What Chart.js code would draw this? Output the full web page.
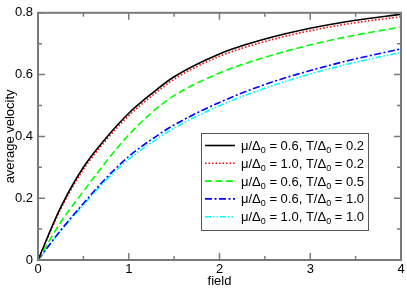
<!DOCTYPE html>
<html>
<head>
<meta charset="utf-8">
<script src="https://cdn.jsdelivr.net/npm/chart.js@4.4.1/dist/chart.umd.min.js"></script>
<style>
  html, body { margin: 0; padding: 0; background: #fff; }
  canvas { display: block; }
</style>
</head>
<body>
<canvas id="chart" width="407" height="289"></canvas>
<script>
// values
const field = [0, 0.25, 0.5, 0.75, 1, 1.25, 1.5, 2, 2.5, 3, 3.5, 4];
const velMu06T02 = [0, 0.17, 0.30, 0.395, 0.475, 0.538, 0.593, 0.667, 0.715, 0.750, 0.776, 0.795];
const velMu10T02 = [0, 0.165, 0.293, 0.388, 0.467, 0.530, 0.585, 0.659, 0.707, 0.742, 0.768, 0.787];
const velMu06T05 = [0, 0.122, 0.222, 0.318, 0.405, 0.476, 0.532, 0.605, 0.656, 0.696, 0.728, 0.754];
const velMu06T10 = [0, 0.096, 0.183, 0.265, 0.335, 0.39, 0.437, 0.510, 0.568, 0.613, 0.651, 0.683];
const velMu10T10 = [0, 0.094, 0.178, 0.258, 0.326, 0.38, 0.427, 0.499, 0.556, 0.602, 0.640, 0.672];

const muValues = ['0.6', '1.0', '0.6', '0.6', '1.0'];
const tValues = ['0.2', '0.2', '0.5', '1.0', '1.0'];

const xTicks = [0, 1, 2, 3, 4];
const xMinor = [0.5, 1.5, 2.5, 3.5];
const yTicks = [0, 0.2, 0.4, 0.6, 0.8];
const yMinor = [0.1, 0.3, 0.5, 0.7];

const FONT = '"Liberation Sans", Arial, sans-serif';
Chart.defaults.font.family = FONT;
Chart.defaults.font.size = 13;
Chart.defaults.color = '#000';

const series = [velMu06T02, velMu10T02, velMu06T05, velMu06T10, velMu10T10];
const colors = ['#000000', '#ff0000', '#00ff00', '#0000ff', '#00ffff'];
const dashes = [[], [1.5, 2], [7, 3.5], [7, 2.5, 2, 2.5], [6, 2, 1.5, 2, 1.5, 2]];

const datasets = series.map((vals, i) => ({
    label: 'μ/Δ₀ = ' + muValues[i] + ', T/Δ₀ = ' + tValues[i],
    data: vals.map((v, j) => ({ x: field[j], y: v })),
    borderColor: colors[i],
    borderDash: dashes[i],
    borderWidth: 1.6,
    pointRadius: 0,
    fill: false,
    cubicInterpolationMode: 'monotone'
}));

function drawLabel(ctx, x, y, mu, t) {
    const parts = [['μ/Δ', 0], ['0', 1], [' = ' + mu + ', T/Δ', 0], ['0', 1], [' = ' + t, 0]];
    parts.forEach(([s, sub]) => {
        ctx.font = (sub ? '9px ' : '13px ') + FONT;
        ctx.fillText(s, x, sub ? y + 3 : y);
        x += ctx.measureText(s).width;
    });
}

const framePlugin = {
    id: 'frame',
    afterDatasetsDraw(chart) {
        const { ctx, chartArea: a, scales: { x, y } } = chart;
        ctx.save();
        ctx.strokeStyle = '#7a7a7a';
        ctx.lineWidth = 1.5;
        ctx.setLineDash([]);
        ctx.beginPath();
        const tick = (vals, len) => {
            vals.forEach(v => {
                const px = x.getPixelForValue(v);
                ctx.moveTo(px, a.bottom); ctx.lineTo(px, a.bottom - len);
                ctx.moveTo(px, a.top); ctx.lineTo(px, a.top + len);
            });
        };
        const tickY = (vals, len) => {
            vals.forEach(v => {
                const py = y.getPixelForValue(v);
                ctx.moveTo(a.left, py); ctx.lineTo(a.left + len, py);
                ctx.moveTo(a.right, py); ctx.lineTo(a.right - len, py);
            });
        };
        tick(xTicks, 7); tick(xMinor, 4);
        tickY(yTicks, 7); tickY(yMinor, 4);
        ctx.stroke();
        ctx.lineWidth = 2;
        ctx.strokeRect(a.left, a.top, a.right - a.left, a.bottom - a.top);

        // legend box
        const box = { left: a.right - 200, top: a.bottom - 127, w: 167, h: 97 };
        ctx.fillStyle = '#fff';
        ctx.fillRect(box.left, box.top, box.w, box.h);
        ctx.strokeStyle = '#555';
        ctx.lineWidth = 1;
        ctx.strokeRect(box.left + 0.5, box.top + 0.5, box.w, box.h);
        chart.data.datasets.forEach((ds, i) => {
            const cy = box.top + 12.5 + i * 17.8;
            ctx.strokeStyle = ds.borderColor;
            ctx.lineWidth = 1.6;
            ctx.setLineDash(ds.borderDash);
            ctx.beginPath();
            ctx.moveTo(box.left + 4, cy);
            ctx.lineTo(box.left + 34, cy);
            ctx.stroke();
            ctx.setLineDash([]);
            ctx.fillStyle = '#000';
            ctx.textBaseline = 'alphabetic';
            drawLabel(ctx, box.left + 40, cy + 4.5, muValues[i], tValues[i]);
        });
        ctx.restore();
    }
};

new Chart(document.getElementById('chart'), {
    type: 'line',
    data: { datasets: datasets },
    options: {
        responsive: false,
        animation: false,
        devicePixelRatio: 1,
        layout: { padding: { top: 6, right: 6, left: 0, bottom: 0 } },
        plugins: { legend: { display: false }, tooltip: { enabled: false } },
        scales: {
            x: {
                type: 'linear',
                min: 0,
                max: 4,
                afterFit: s => { s.height = 29; },
                afterBuildTicks: s => { s.ticks = xTicks.map(v => ({ value: v })); },
                grid: { display: false, drawTicks: false },
                border: { display: false },
                ticks: { padding: 2, maxRotation: 0, callback: v => String(v) },
                title: { display: true, text: 'field', padding: 0 }
            },
            y: {
                type: 'linear',
                min: 0,
                max: 0.8,
                afterFit: s => { s.width = 38; },
                afterBuildTicks: s => { s.ticks = yTicks.map(v => ({ value: v })); },
                grid: { display: false, drawTicks: false },
                border: { display: false },
                ticks: { padding: 5, callback: v => v === 0 ? '0' : v.toFixed(1) },
                title: { display: true, text: 'average velocity', padding: { top: 3, bottom: 0 } }
            }
        }
    },
    plugins: [framePlugin]
});
</script>
</body>
</html>
